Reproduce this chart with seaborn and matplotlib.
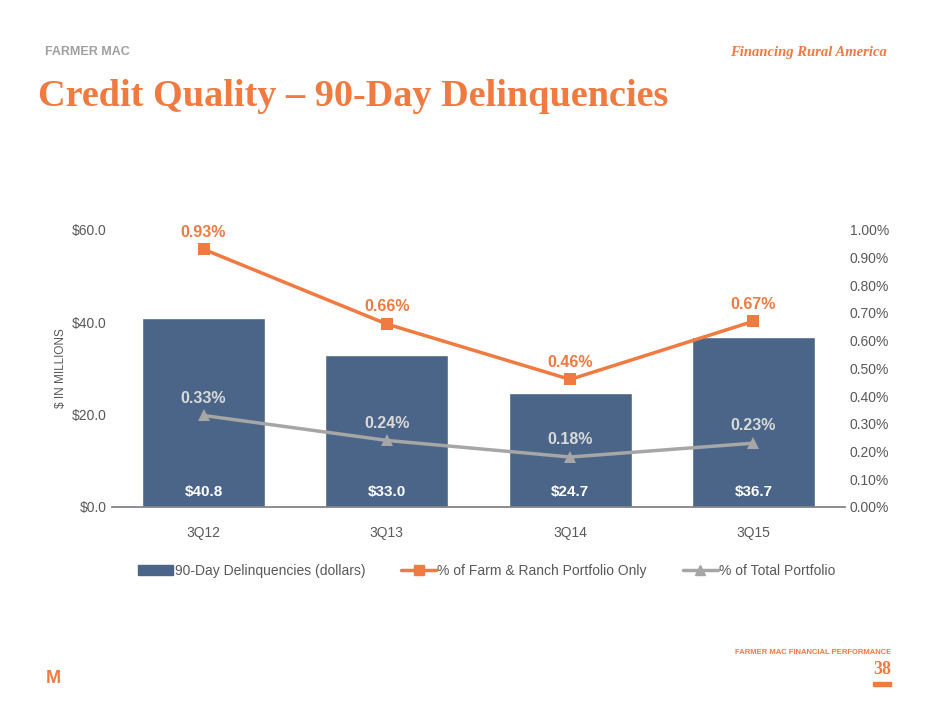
import matplotlib.pyplot as plt
import pandas as pd
import seaborn as sns
from matplotlib.lines import Line2D
from matplotlib.patches import Patch, Rectangle

quarters = ["3Q12", "3Q13", "3Q14", "3Q15"]
dollars = [40.8, 33.0, 24.7, 36.7]
farm_pct = [0.93, 0.66, 0.46, 0.67]
total_pct = [0.33, 0.24, 0.18, 0.23]

ORANGE = "#F07A40"
NAVY = "#4A6587"
GREY = "#A6A6A6"

sns.set_theme(style="white")
plt.rcParams["font.family"] = ["Liberation Sans", "DejaVu Sans"]

df = pd.DataFrame({"q": quarters, "d": dollars, "f": farm_pct, "t": total_pct})

fig = plt.figure(figsize=(9.4, 7.05), dpi=100)
ax = fig.add_axes([0.119, 0.281, 0.78, 0.393])
sns.barplot(data=df, x="q", y="d", color=NAVY, width=0.67, saturation=1, ax=ax)
ax.set_ylim(0, 60)
ax.set_yticks([0, 20, 40, 60])
ax.set_yticklabels([f"${v:.1f}" for v in [0, 20, 40, 60]], color="#595959", fontsize=10)
ax.set_xlabel("")
ax.set_ylabel("$ IN MILLIONS", fontsize=8.5, color="#595959")
ax.tick_params(axis="x", colors="#595959", labelsize=10, pad=8)
ax.tick_params(axis="y", length=0)
for s in ["top", "right", "left"]:
    ax.spines[s].set_visible(False)
ax.spines["bottom"].set_color("#808080")
for i, v in enumerate(dollars):
    ax.text(i, 1.8, f"${v:.1f}", ha="center", va="bottom", color="white",
            fontsize=11, fontweight="bold")

ax2 = ax.twinx()
sns.lineplot(x=range(4), y=farm_pct, color=ORANGE, lw=2.5, marker="s",
             markersize=8, markeredgewidth=0, ax=ax2)
sns.lineplot(x=range(4), y=total_pct, color=GREY, lw=2.5, marker="^",
             markersize=8, markeredgewidth=0, ax=ax2)
ax2.set_ylim(0, 1.0)
ax2.set_yticks([i / 10 for i in range(11)])
ax2.set_yticklabels([f"{i / 10:.2f}%" for i in range(11)], color="#595959", fontsize=10)
ax2.tick_params(axis="y", length=0)
for s in ["top", "right", "left", "bottom"]:
    ax2.spines[s].set_visible(False)
ax.set_xlim(-0.5, 3.5)
for i, v in enumerate(farm_pct):
    ax2.text(i, v + 0.035, f"{v:.2f}%", ha="center", va="bottom", color=ORANGE,
             fontsize=11.5, fontweight="bold")
for i, v in enumerate(total_pct):
    ax2.text(i, v + 0.035, f"{v:.2f}%", ha="center", va="bottom", color="#D9D9D9",
             fontsize=11.5, fontweight="bold")

handles = [Patch(color=NAVY),
           Line2D([], [], color=ORANGE, lw=2.5, marker="s", markersize=7),
           Line2D([], [], color=GREY, lw=2.5, marker="^", markersize=7)]
labels = ["90-Day Delinquencies (dollars)", "% of Farm & Ranch Portfolio Only",
          "% of Total Portfolio"]
fig.legend(handles, labels, loc="center", bbox_to_anchor=(0.518, 0.19), ncol=3,
           frameon=False, fontsize=10, labelcolor="#595959", handlelength=2.5,
           columnspacing=2.6, handletextpad=0.1)

fig.text(0.048, 0.926, "FARMER MAC", color="#A0A0A0", fontsize=9, fontweight="bold",
         va="center")
fig.text(0.943, 0.926, "Financing Rural America", color=ORANGE, fontsize=10.5,
         fontstyle="italic", fontweight="bold", family="Liberation Serif", ha="right",
         va="center")
fig.text(0.04, 0.863, "Credit Quality – 90-Day Delinquencies", color=ORANGE,
         fontsize=27.5, fontweight="bold", family="Liberation Serif", va="center")
fig.text(0.948, 0.075, "FARMER MAC FINANCIAL PERFORMANCE", color=ORANGE, fontsize=5.5,
         fontweight="bold", ha="right", va="center")
fig.text(0.948, 0.05, "38", color=ORANGE, fontsize=13, fontweight="bold",
         family="Liberation Serif", ha="right", va="center")
fig.add_artist(Rectangle((0.929, 0.027), 0.019, 0.006, color=ORANGE,
                         transform=fig.transFigure))
fig.text(0.057, 0.038, "M", color=ORANGE, fontsize=13, fontweight="bold",
         ha="center", va="center")

fig.savefig("out.png", dpi=100)
